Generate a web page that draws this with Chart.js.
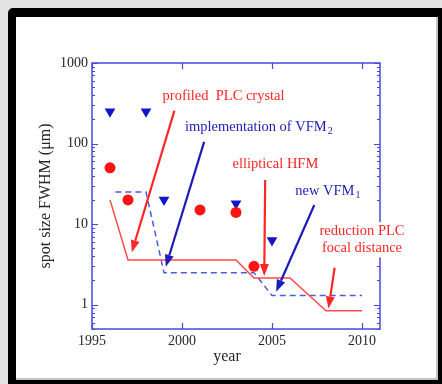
<!DOCTYPE html>
<html>
<head>
<meta charset="utf-8">
<script src="https://cdn.jsdelivr.net/npm/chart.js@4.4.0/dist/chart.umd.min.js"></script>
<style>
  html, body { margin: 0; padding: 0; width: 442px; height: 384px; overflow: hidden; background: #e3e3e3; }
  #frame {
    position: absolute; left: 8px; top: 8px; width: 438px; height: 380px;
    box-sizing: border-box; border: 8px solid #000; border-top-width: 9px;
    border-radius: 5px 0 0 0; background: #fff;
    box-shadow: inset -2px -2px 0 #c4c4c4;
  }
  #chart { position: absolute; left: 0; top: 0; }
</style>
</head>
<body>
<div id="frame"></div>
<canvas id="chart" width="442" height="384"></canvas>
<script>
// Measured spot sizes (FWHM, µm) per year
const circleYears   = [1996, 1997, 2001, 2003, 2004];
const circleSizes   = [50, 20, 15, 14, 3];
const triangleYears = [1996, 1998, 1999, 2003, 2005];
const triangleSizes = [250, 250, 20, 18, 6.3];

// Expected spot size, horizontal (solid) and vertical (dashed)
const solidYears  = [1996, 1997, 2003, 2004, 2006, 2008, 2010];
const solidSizes  = [20, 3.6, 3.6, 2.15, 2.15, 0.84, 0.84];
const dashedYears = [1996.3, 1998, 1999, 2004, 2005, 2010];
const dashedSizes = [25, 25, 2.5, 2.5, 1.3, 1.3];

// Axis ticks
const xTicks = [1995, 2000, 2005, 2010];
const yTicks = [1, 10, 100, 1000];

// Upgrade notes: text, subscript, anchor (year, size), colour
const noteTexts  = ['profiled  PLC crystal', 'implementation of VFM', 'elliptical HFM', 'new VFM', 'reduction PLC', 'focal distance'];
const noteSubs   = ['', '2', '', '1', '', ''];
const noteYears  = [2002.31, 2004.27, 2005.19, 2008.10, 2010.0, 2010.0];
const noteSizes  = [382, 162, 55.8, 26, 8.2, 5.0];
const noteColors = ['red', 'blue', 'red', 'blue', 'red', 'red'];

// Arrows from each note down to the step it refers to
const arrowFromYears = [1999.58, 2001.23, 2004.62, 2007.35, 2008.48];
const arrowFromSizes = [256, 105, 35.3, 17.3, 2.88];
const arrowToYears   = [1997.21, 1999.10, 2004.57, 2005.23, 2008.14];
const arrowToSizes   = [4.48, 2.96, 2.27, 1.45, 0.90];
const arrowColors    = ['red', 'blue', 'red', 'blue', 'red'];

const SERIF = '"Liberation Serif", "Times New Roman", serif';
const INK = { red: '#ff2626', blue: '#1c1cb8' };
const AXIS_BLUE = '#4848e0';
const LABEL_INK = '#262626';

const toPoints = (xs, ys) => xs.map((x, i) => ({ x: x, y: ys[i] }));

// Box frame with inward ticks on all four sides
const framePlugin = {
  id: 'frame',
  beforeDatasetsDraw(chart) {
    const { ctx, chartArea: a, scales: { x, y } } = chart;
    ctx.save();
    ctx.strokeStyle = AXIS_BLUE;
    ctx.lineWidth = 1.5;
    ctx.strokeRect(a.left, a.top, a.right - a.left, a.bottom - a.top);
    ctx.lineWidth = 1.2;
    ctx.beginPath();
    for (let k = -1; k <= 3; k++) {
      for (let m = 1; m <= 9; m++) {
        const v = m * Math.pow(10, k);
        if (v < y.min - 1e-9 || v > y.max + 1e-9) continue;
        const py = Math.round(y.getPixelForValue(v)) + 0.5;
        const len = m === 1 ? 6 : 3;
        ctx.moveTo(a.left, py); ctx.lineTo(a.left + len, py);
        ctx.moveTo(a.right, py); ctx.lineTo(a.right - len, py);
      }
    }
    xTicks.forEach(v => {
      const px = Math.round(x.getPixelForValue(v)) + 0.5;
      ctx.moveTo(px, a.bottom); ctx.lineTo(px, a.bottom - 6);
      ctx.moveTo(px, a.top); ctx.lineTo(px, a.top + 6);
    });
    ctx.stroke();

    // x-axis title, centred between the 2000 and 2005 ticks
    ctx.fillStyle = LABEL_INK;
    ctx.font = '16px ' + SERIF;
    ctx.textAlign = 'center';
    ctx.textBaseline = 'middle';
    const tx = (x.getPixelForValue(xTicks[1]) + x.getPixelForValue(xTicks[2])) / 2;
    ctx.fillText('year', tx, a.bottom + 28);
    ctx.restore();
  }
};

// Notes and arrows drawn in data coordinates
const notesPlugin = {
  id: 'notes',
  afterDatasetsDraw(chart) {
    const { ctx, scales: { x, y } } = chart;
    ctx.save();
    ctx.textBaseline = 'middle';
    noteTexts.forEach((t, i) => {
      const cx = x.getPixelForValue(noteYears[i]);
      const cy = y.getPixelForValue(noteSizes[i]);
      ctx.font = '14.5px ' + SERIF;
      const w1 = ctx.measureText(t).width;
      ctx.font = '10px ' + SERIF;
      const w2 = noteSubs[i] ? ctx.measureText(noteSubs[i]).width + 1 : 0;
      const w = w1 + w2;
      const x0 = cx - w / 2;
      ctx.fillStyle = '#fff';
      ctx.fillRect(x0 - 2, cy - 9, w + 4, 18);
      ctx.fillStyle = INK[noteColors[i]];
      ctx.textAlign = 'left';
      ctx.font = '14.5px ' + SERIF;
      ctx.fillText(t, x0, cy);
      if (noteSubs[i]) {
        ctx.font = '10px ' + SERIF;
        ctx.fillText(noteSubs[i], x0 + w1 + 1, cy + 5);
      }
    });
    arrowFromYears.forEach((_, i) => {
      const x1 = x.getPixelForValue(arrowFromYears[i]);
      const y1 = y.getPixelForValue(arrowFromSizes[i]);
      const x2 = x.getPixelForValue(arrowToYears[i]);
      const y2 = y.getPixelForValue(arrowToSizes[i]);
      const ang = Math.atan2(y2 - y1, x2 - x1);
      const headLen = 12, headHalf = 4.5;
      const bx = x2 - headLen * Math.cos(ang), by = y2 - headLen * Math.sin(ang);
      ctx.strokeStyle = INK[arrowColors[i]];
      ctx.fillStyle = INK[arrowColors[i]];
      ctx.lineWidth = 2.2;
      ctx.beginPath();
      ctx.moveTo(x1, y1); ctx.lineTo(bx, by);
      ctx.stroke();
      ctx.beginPath();
      ctx.moveTo(x2, y2);
      ctx.lineTo(bx + headHalf * Math.sin(ang), by - headHalf * Math.cos(ang));
      ctx.lineTo(bx - headHalf * Math.sin(ang), by + headHalf * Math.cos(ang));
      ctx.closePath();
      ctx.fill();
    });
    ctx.restore();
  }
};

new Chart(document.getElementById('chart').getContext('2d'), {
  type: 'scatter',
  data: {
    datasets: [
      { label: 'measured (circles)', data: toPoints(circleYears, circleSizes),
        pointStyle: 'circle', pointRadius: 5.5, pointBackgroundColor: '#ff1414',
        pointBorderWidth: 0, showLine: false, order: 0 },
      { label: 'measured (triangles)', data: toPoints(triangleYears, triangleSizes),
        pointStyle: 'triangle', pointRotation: 180, pointRadius: 6.2,
        pointBackgroundColor: '#1414c8', pointBorderWidth: 0, showLine: false, order: 1 },
      { label: 'horizontal', data: toPoints(solidYears, solidSizes),
        showLine: true, pointRadius: 0, borderColor: '#ff4a4a', borderWidth: 1.5,
        fill: false, tension: 0, order: 2 },
      { label: 'vertical', data: toPoints(dashedYears, dashedSizes),
        showLine: true, pointRadius: 0, borderColor: '#4c5ce0', borderWidth: 1.5,
        borderDash: [6, 4], fill: false, tension: 0, order: 3 }
    ]
  },
  options: {
    responsive: false,
    animation: false,
    devicePixelRatio: 1,
    layout: { padding: { top: 63, right: 62, left: 0, bottom: 0 } },
    plugins: { legend: { display: false }, tooltip: { enabled: false } },
    scales: {
      x: {
        type: 'linear', position: 'bottom', min: 1995, max: 2011,
        afterBuildTicks: s => { s.ticks = xTicks.map(v => ({ value: v })); },
        afterFit: s => { s.height = 55; },
        grid: { display: false, drawTicks: false },
        border: { display: false },
        ticks: { font: { family: SERIF, size: 14 }, color: LABEL_INK, padding: 4,
                 maxRotation: 0, autoSkip: false, callback: v => String(v) },
        title: { display: false }
      },
      y: {
        type: 'logarithmic', position: 'left', min: 0.5, max: 1000,
        afterBuildTicks: s => { s.ticks = yTicks.map(v => ({ value: v })); },
        afterFit: s => { s.width = 92; },
        grid: { display: false, drawTicks: false },
        border: { display: false },
        ticks: { font: { family: SERIF, size: 14 }, color: LABEL_INK, padding: 4,
                 autoSkip: false, callback: v => String(v) },
        title: { display: true, text: 'spot size FWHM (μm)', font: { family: SERIF, size: 16 },
                 color: LABEL_INK, padding: { top: 36, bottom: 0 } }
      }
    }
  },
  plugins: [framePlugin, notesPlugin]
});
</script>
</body>
</html>
